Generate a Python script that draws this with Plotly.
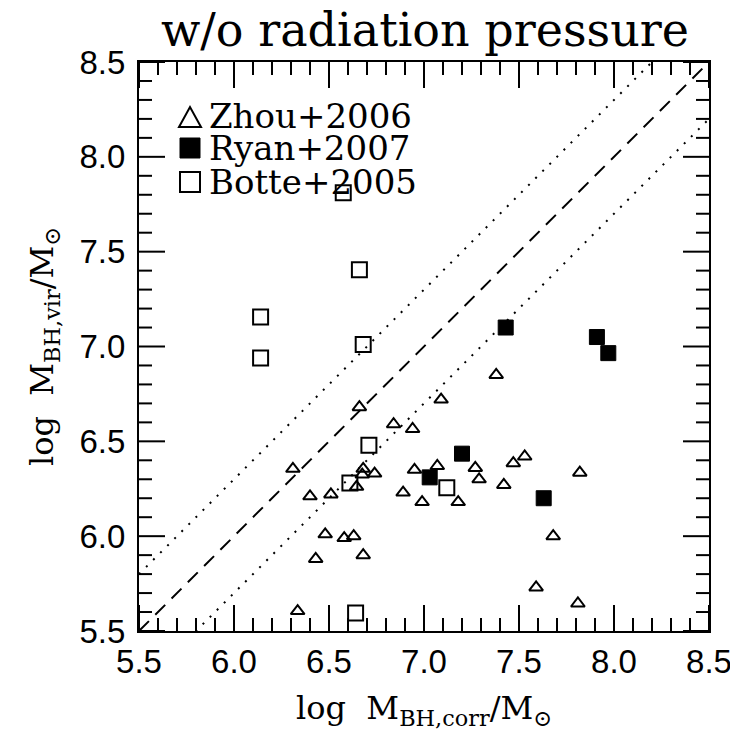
import plotly.graph_objects as go

# ---- data ----
zhou_x = [6.335, 6.43, 6.48, 6.58, 6.63, 6.68, 6.40, 6.51, 6.31, 6.645, 6.68, 6.675,
          6.74, 6.66, 6.84, 6.94, 6.89, 6.95, 6.99, 7.07, 7.09, 7.18, 7.27, 7.29,
          7.38, 7.42, 7.47, 7.53, 7.59, 7.68, 7.81, 7.82]
zhou_y = [5.605, 5.88, 6.01, 5.99, 6.00, 5.90, 6.21, 6.22, 6.355, 6.26, 6.355, 6.325,
          6.33, 6.68, 6.59, 6.565, 6.23, 6.35, 6.18, 6.37, 6.72, 6.18, 6.36, 6.30,
          6.85, 6.27, 6.385, 6.42, 5.73, 6.00, 5.645, 6.335]

ryan_x = [7.03, 7.20, 7.43, 7.63, 7.91, 7.97]
ryan_y = [6.31, 6.435, 7.10, 6.20, 7.05, 6.965]

botte_x = [6.14, 6.14, 6.575, 6.66, 6.68, 6.71, 6.61, 7.12, 6.64]
botte_y = [7.155, 6.94, 7.81, 7.405, 7.01, 6.48, 6.28, 6.255, 5.595]

line_x = [5.5, 8.5]
offset = 0.3
axis_range = [5.5, 8.5]
tick_vals = [5.5, 6.0, 6.5, 7.0, 7.5, 8.0, 8.5]
tick_text = ["5.5", "6.0", "6.5", "7.0", "7.5", "8.0", "8.5"]
minor_step = 0.1
legend_names = ["Zhou+2006", "Ryan+2007", "Botte+2005"]

# ---- layout geometry ----
W, H = 730, 731
L, R, T, B = 139, 21, 62, 100
PW, PH = W - L - R, H - T - B
MAJOR_LEN, MINOR_LEN = 26, 13

def px(xp):
    return (xp - L) / PW

def py(yp):
    return (H - B - yp) / PH

SERIF = "DejaVu Serif"
SANS = "Liberation Sans"

fig = go.Figure()

fig.add_trace(go.Scatter(x=line_x, y=line_x, mode="lines",
                         line=dict(color="black", width=2, dash="14px,9px"),
                         showlegend=False, hoverinfo="skip"))
fig.add_trace(go.Scatter(x=line_x, y=[v + offset for v in line_x], mode="lines",
                         line=dict(color="black", width=2, dash="2px,8px"),
                         showlegend=False, hoverinfo="skip"))
fig.add_trace(go.Scatter(x=line_x, y=[v - offset for v in line_x], mode="lines",
                         line=dict(color="black", width=2, dash="2px,8px"),
                         showlegend=False, hoverinfo="skip"))

fig.add_trace(go.Scatter(x=zhou_x, y=zhou_y, mode="markers", name=legend_names[0],
                         marker=dict(symbol="triangle-up-open", size=12, color="black",
                                     line=dict(width=2, color="black")),
                         showlegend=False))
fig.add_trace(go.Scatter(x=botte_x, y=botte_y, mode="markers", name=legend_names[2],
                         marker=dict(symbol="square-open", size=15, color="black",
                                     line=dict(width=2, color="black")),
                         showlegend=False))
fig.add_trace(go.Scatter(x=ryan_x, y=ryan_y, mode="markers", name=legend_names[1],
                         marker=dict(symbol="square", size=15, color="black",
                                     line=dict(width=1, color="black")),
                         showlegend=False))

shapes = []

# ---- tick marks on all four sides (axis values, lengths in paper units) ----
n_minor = int(round((axis_range[1] - axis_range[0]) / minor_step))
minor_vals = [round(axis_range[0] + i * minor_step, 3) for i in range(n_minor + 1)]
tick_line = dict(color="black", width=2)
for v in minor_vals:
    ln = MAJOR_LEN if any(abs(v - t) < 1e-6 for t in tick_vals) else MINOR_LEN
    lx, ly = ln / PW, ln / PH
    shapes.append(dict(type="line", xref="x", yref="paper",
                       x0=v, x1=v, y0=0, y1=ly, line=tick_line, layer="above"))
    shapes.append(dict(type="line", xref="x", yref="paper",
                       x0=v, x1=v, y0=1, y1=1 - ly, line=tick_line, layer="above"))
    shapes.append(dict(type="line", yref="y", xref="paper",
                       y0=v, y1=v, x0=0, x1=lx, line=tick_line, layer="above"))
    shapes.append(dict(type="line", yref="y", xref="paper",
                       y0=v, y1=v, x0=1, x1=1 - lx, line=tick_line, layer="above"))

# ---- manual legend (symbols + text) ----
cx = 190
shapes.append(dict(type="path", xref="paper", yref="paper",
                   path=f"M {px(cx-11)} {py(127)} L {px(cx+11)} {py(127)} L {px(cx)} {py(107)} Z",
                   line=dict(color="black", width=2), fillcolor="rgba(0,0,0,0)"))
shapes.append(dict(type="rect", xref="paper", yref="paper",
                   x0=px(cx-10), x1=px(cx+10), y0=py(158), y1=py(138),
                   line=dict(color="black", width=1), fillcolor="black"))
shapes.append(dict(type="rect", xref="paper", yref="paper",
                   x0=px(cx-10), x1=px(cx+10), y0=py(192), y1=py(172),
                   line=dict(color="black", width=2), fillcolor="rgba(0,0,0,0)"))

annotations = []
for name, yc in zip(legend_names, [116, 148, 182]):
    annotations.append(dict(text=name, xref="paper", yref="paper", x=px(207), y=py(yc),
                            xanchor="left", yanchor="middle", showarrow=False,
                            font=dict(family=SERIF, size=34, color="black")))

axis_common = dict(
    range=axis_range, tickmode="array", tickvals=tick_vals, ticktext=tick_text,
    ticks="", showline=True, linewidth=2, linecolor="black", mirror=True,
    showgrid=False, zeroline=False, automargin=False, ticklabeloverflow="allow",
    tickfont=dict(family=SANS, size=33, color="black"),
)

fig.update_layout(
    width=W, height=H,
    margin=dict(l=L, r=R, t=T, b=B, pad=0),
    paper_bgcolor="white", plot_bgcolor="white",
    title=dict(text="w/o radiation pressure", x=px(425), xref="paper",
               y=1 - 30 / H, yref="container", xanchor="center", yanchor="middle",
               font=dict(family=SERIF, size=46, color="black")),
    xaxis=dict(axis_common, ticklabelstandoff=0,
               title=dict(text="log  M<sub>BH,corr</sub>/M<sub>⊙</sub>",
                          font=dict(family=SERIF, size=32, color="black"), standoff=19)),
    yaxis=dict(axis_common, ticklabelstandoff=5,
               title=dict(text="log  M<sub>BH,vir</sub>/M<sub>⊙</sub>",
                          font=dict(family=SERIF, size=32, color="black"), standoff=16)),
    shapes=shapes, annotations=annotations, showlegend=False,
)

fig.write_html("out.html")
